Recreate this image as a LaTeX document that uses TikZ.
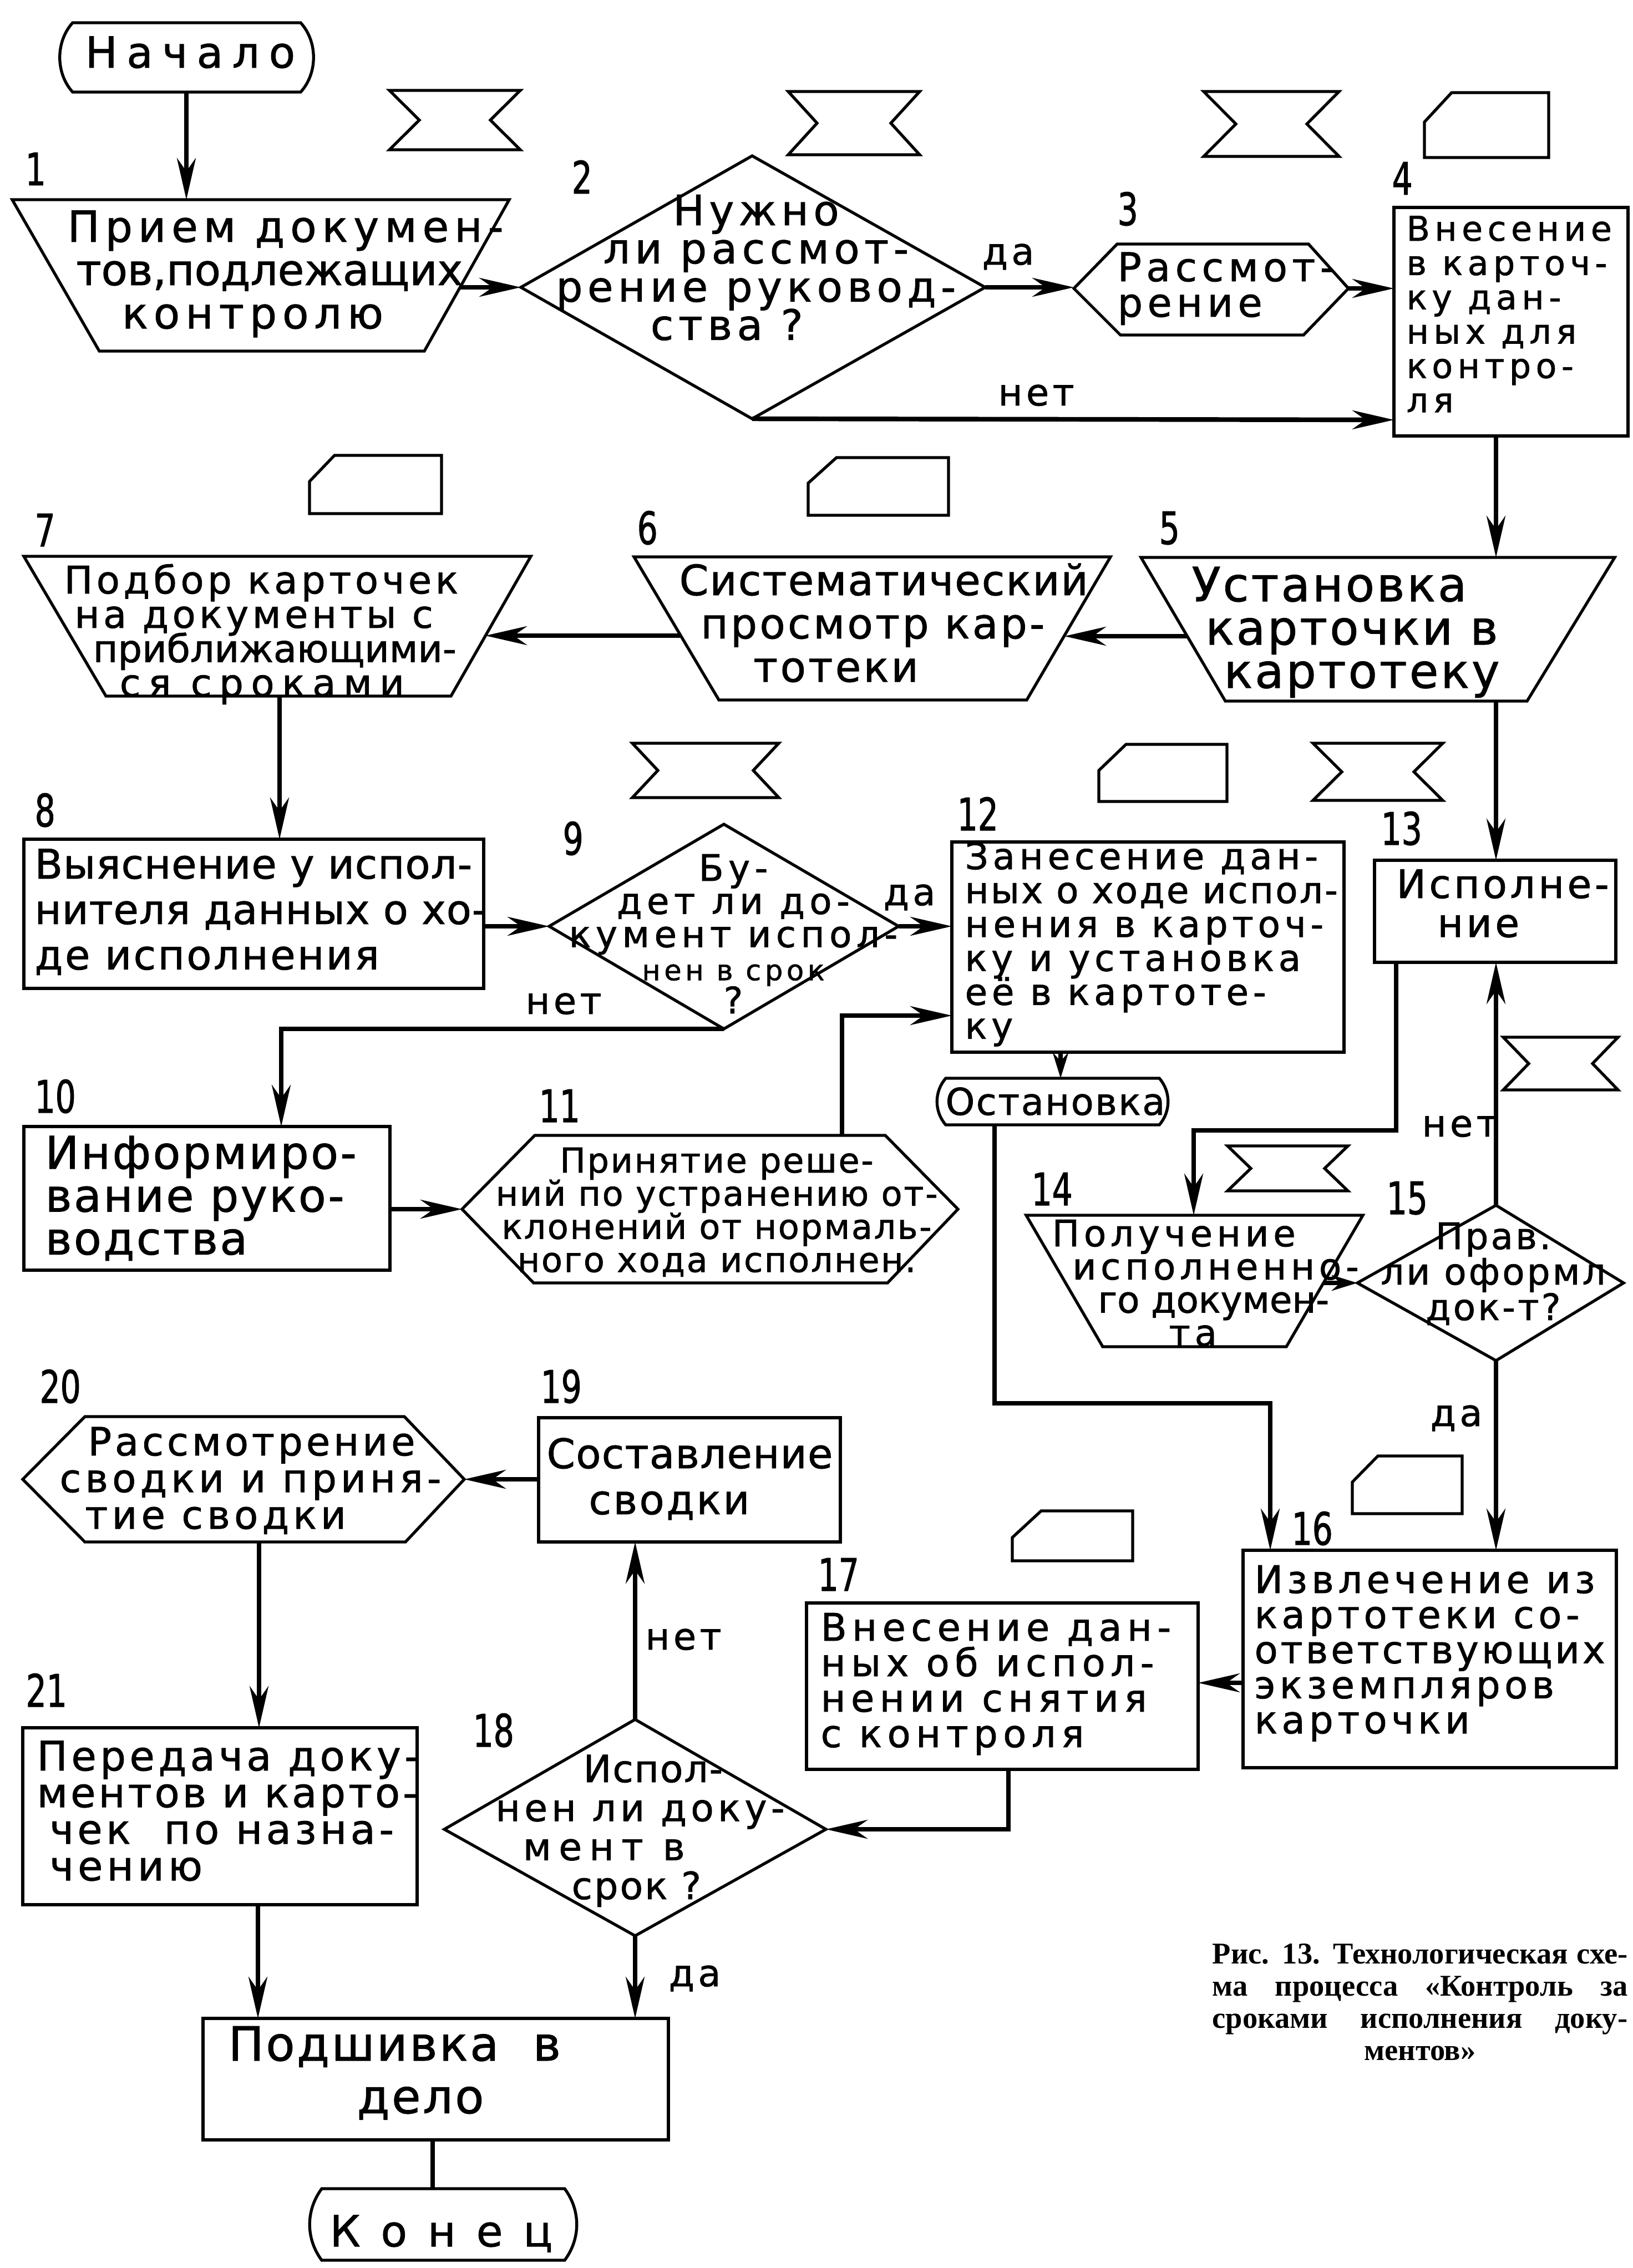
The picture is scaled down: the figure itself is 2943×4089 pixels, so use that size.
\documentclass[tikz,border=0pt]{standalone}
\usepackage{fontspec}
\usetikzlibrary{arrows.meta}
\newfontfamily\gost[FakeBold=1.2]{DejaVu Sans}
\newfontfamily\gostn[FakeStretch=0.72,FakeBold=1.2]{DejaVu Sans}
\newfontfamily\capf{Liberation Serif}
\lineskiplimit=-100pt
\newcommand\Ll[1]{\vtop{\halign{##\hfil\cr#1\crcr}}}
\newcommand\Lc[1]{\vtop{\halign{\hfil##\hfil\cr#1\crcr}}}
\newcommand\ls[2]{{\addfontfeatures{LetterSpace=#1}#2}}
\newcommand\hglass[5]{\draw[shp] (#1,#3) -- (#2,#3) -- ({#2-#5},{(#3+#4)/2}) -- (#2,#4) -- (#1,#4) -- ({#1+#5},{(#3+#4)/2}) -- cycle;}
\newcommand\kcard[6]{\draw[shp] (#1,#6) -- (#5,#3) -- (#2,#3) -- (#2,#4) -- (#1,#4) -- cycle;}
\tikzset{
  shp/.style={line width=1.5pt,line join=miter},
  conn/.style={line width=2.4pt},
  arr/.style={conn,-{Stealth[length=7.5mm,width=3.4mm,inset=2.4mm]}},
  sarr/.style={conn,-{Stealth[length=4.6mm,width=2.8mm,inset=1.5mm]}},
  tx/.style n args={3}{font={\gost\addfontfeatures{LetterSpace=#3}\fontsize{#1}{#2}\selectfont\lineskiplimit=-100pt},anchor=base west,inner sep=0pt},
  txc/.style n args={3}{font={\gost\addfontfeatures{LetterSpace=#3}\fontsize{#1}{#2}\selectfont\lineskiplimit=-100pt},anchor=base,inner sep=0pt},
  num/.style={font={\gostn\fontsize{23}{23}\selectfont},anchor=base west,inner sep=0pt},
  lab/.style={font={\gost\addfontfeatures{LetterSpace=10}\fontsize{19}{19}\selectfont},anchor=base west,inner sep=0pt},
}
\begin{document}
\begin{tikzpicture}[x=0.1mm,y=-0.1mm]
\useasboundingbox (0,0) rectangle (2943,4089);
\fill[white] (0,0) rectangle (2943,4089);

% ---------- symbols ----------
\hglass{702}{938}{163}{270}{54}
\hglass{1421}{1658}{165}{279}{52}
\hglass{2170}{2414}{165}{282}{58}
\kcard{2568}{2792}{167}{284}{2617}{220}
\kcard{558}{796}{821}{926}{603}{868}
\kcard{1457}{1710}{825}{929}{1508}{871}
\hglass{1140}{1404}{1340}{1438}{46}
\kcard{1981}{2212}{1342}{1445}{2030}{1389}
\hglass{2367}{2601}{1340}{1443}{52}
\hglass{2710}{2917}{1870}{1965}{46}
\hglass{2213}{2430}{2066}{2147}{42}
\kcard{2438}{2636}{2625}{2729}{2484}{2672}
\kcard{1825}{2042}{2724}{2814}{1877}{2772}

% ---------- shapes ----------
\draw[shp] (131,41) -- (542,41) .. controls (573,75) and (573,132) .. (542,166) -- (131,166) .. controls (100,132) and (100,75) .. (131,41) -- cycle;
\node[tx={22}{22}{21.5}] (start) at (153,122) {Начало};
\draw[shp] (22,360) -- (918,360) -- (765,633) -- (179,633) -- cycle;
\draw[shp] (1356,281) -- (1776,518) -- (1356,755) -- (939,518) -- cycle;
\draw[shp] (1936,520) -- (2014,440) -- (2359,440) -- (2431,520) -- (2350,604) -- (2020,604) -- cycle;
\draw[shp] (2513,374) rectangle (2935,786);
\draw[shp] (2057,1005) -- (2911,1005) -- (2753,1264) -- (2209,1264) -- cycle;
\draw[shp] (1143,1004) -- (2002,1004) -- (1851,1262) -- (1296,1262) -- cycle;
\draw[shp] (43,1003) -- (957,1003) -- (813,1255) -- (191,1255) -- cycle;
\draw[shp] (43,1513) rectangle (872,1782);
\draw[shp] (1305,1486) -- (1620,1670) -- (1305,1855) -- (990,1670) -- cycle;
\draw[shp] (43,2031) rectangle (703,2290);
\draw[shp] (833,2180) -- (964,2047) -- (1596,2047) -- (1727,2180) -- (1600,2313) -- (962,2313) -- cycle;
\draw[shp] (1716,1518) rectangle (2423,1897);
\draw[shp] (1705,1944) -- (2090,1944) .. controls (2111,1968) and (2111,2004) .. (2090,2028) -- (1705,2028) .. controls (1684,2004) and (1684,1968) .. (1705,1944) -- cycle;
\node[tx={19}{19}{4}] (stop) at (1704,2010) {Остановка};
\draw[shp] (2478,1551) rectangle (2913,1735);
\draw[shp] (1850,2191) -- (2457,2191) -- (2319,2428) -- (1988,2428) -- cycle;
\draw[shp] (2697,2173) -- (2927,2313) -- (2697,2453) -- (2447,2313) -- cycle;
\draw[shp] (2241,2795) rectangle (2914,3187);
\draw[shp] (1454,2890) rectangle (2160,3190);
\draw[shp] (1145,3100) -- (1489,3298) -- (1145,3490) -- (801,3298) -- cycle;
\draw[shp] (971,2556) rectangle (1515,2780);
\draw[shp] (41,2667) -- (153,2554) -- (729,2554) -- (837,2667) -- (731,2780) -- (153,2780) -- cycle;
\draw[shp] (41,3115) rectangle (752,3434);
\draw[shp] (366,3639) rectangle (1205,3858);
\draw[shp] (580,3946) -- (1018,3946) .. controls (1047,3985) and (1047,4036) .. (1018,4075) -- (580,4075) .. controls (551,4036) and (551,3985) .. (580,3946) -- cycle;
\node[tx={22}{22}{48}] (end) at (594,4050) {Конец};

% ---------- anchor coordinates ----------
\coordinate (s0b) at (336,166);   \coordinate (t1t) at (336,360);
\coordinate (t1r) at (830,518);   \coordinate (d2l) at (939,518);
\coordinate (d2r) at (1776,518);  \coordinate (h3l) at (1936,518);
\coordinate (h3r) at (2431,520);  \coordinate (b4l) at (2513,520);
\coordinate (d2b) at (1356,755);  \coordinate (b4n) at (2513,757);
\coordinate (b4b) at (2697,786);  \coordinate (t5t) at (2697,1005);
\coordinate (t5l) at (2141,1147); \coordinate (t6r) at (1919,1147);
\coordinate (t6l) at (1226,1146); \coordinate (t7r) at (875,1146);
\coordinate (t7b) at (504,1255);  \coordinate (b8t) at (504,1513);
\coordinate (b8r) at (872,1670);  \coordinate (d9l) at (990,1670);
\coordinate (d9r) at (1620,1670); \coordinate (b12l) at (1716,1670);
\coordinate (d9b) at (1305,1855); \coordinate (c9) at (507,1855); \coordinate (b10t) at (507,2031);
\coordinate (b10r) at (703,2180); \coordinate (h11l) at (833,2180);
\coordinate (h11t) at (1518,2047); \coordinate (c11) at (1518,1831); \coordinate (b12l2) at (1716,1831);
\coordinate (b12b) at (1912,1897); \coordinate (stt) at (1912,1944);
\coordinate (stb) at (1793,2028); \coordinate (cs1) at (1793,2530); \coordinate (cs2) at (2290,2530); \coordinate (b16t1) at (2290,2795);
\coordinate (t5b) at (2697,1264); \coordinate (b13t) at (2697,1551);
\coordinate (b13b1) at (2517,1735); \coordinate (c13a) at (2517,2038); \coordinate (c13b) at (2152,2038); \coordinate (t14t) at (2152,2191);
\coordinate (t14r) at (2386,2313); \coordinate (d15l) at (2447,2313);
\coordinate (d15t) at (2697,2173); \coordinate (b13b2) at (2697,1735);
\coordinate (d15b) at (2697,2453); \coordinate (b16t2) at (2697,2795);
\coordinate (b16l) at (2241,3034); \coordinate (b17r) at (2160,3034);
\coordinate (b17b) at (1818,3190); \coordinate (c17) at (1818,3298); \coordinate (d18r) at (1489,3298);
\coordinate (d18t) at (1145,3100); \coordinate (b19b) at (1145,2780);
\coordinate (b19l) at (971,2667); \coordinate (h20r) at (837,2667);
\coordinate (h20b) at (467,2780); \coordinate (b21t) at (467,3115);
\coordinate (b21b) at (465,3434); \coordinate (b22t1) at (465,3639);
\coordinate (d18b) at (1145,3490); \coordinate (b22t2) at (1145,3639);
\coordinate (b22b) at (780,3858); \coordinate (ent) at (780,3946);

% ---------- connectors ----------
\draw[arr] (s0b) -- (t1t);
\draw[arr] (t1r) -- (d2l);
\draw[arr] (d2r) -- (h3l);
\draw[arr] (h3r) -- (b4l);
\draw[arr] (d2b) -- (b4n);
\draw[arr] (b4b) -- (t5t);
\draw[arr] (t5l) -- (t6r);
\draw[arr] (t6l) -- (t7r);
\draw[arr] (t7b) -- (b8t);
\draw[arr] (b8r) -- (d9l);
\draw[arr] (d9r) -- (b12l);
\draw[arr] (d9b) -- (c9) -- (b10t);
\draw[arr] (b10r) -- (h11l);
\draw[arr] (h11t) -- (c11) -- (b12l2);
\draw[sarr] (b12b) -- (stt);
\draw[arr] (stb) -- (cs1) -- (cs2) -- (b16t1);
\draw[arr] (t5b) -- (b13t);
\draw[arr] (b13b1) -- (c13a) -- (c13b) -- (t14t);
\draw[sarr] (t14r) -- (d15l);
\draw[arr] (d15t) -- (b13b2);
\draw[arr] (d15b) -- (b16t2);
\draw[arr] (b16l) -- (b17r);
\draw[arr] (b17b) -- (c17) -- (d18r);
\draw[arr] (d18t) -- (b19b);
\draw[arr] (b19l) -- (h20r);
\draw[arr] (h20b) -- (b21t);
\draw[arr] (b21b) -- (b22t1);
\draw[arr] (d18b) -- (b22t2);
\draw[conn] (b22b) -- (ent);

% ---------- texts ----------
\node[tx={22}{22.2}{13}] (n1) at (121,436) {\Ll{Прием докумен-\cr\hspace*{4.5pt}\ls{0}{тов,подлежащих}\cr\hspace*{28pt}контролю}};
\node[txc={21.45}{19.6}{11.5}] (n2) at (1363,406) {\Lc{Нужно\cr ли рассмот-\cr рение руковод-\cr ства ?\hspace*{30pt}}};
\node[tx={20.35}{18.2}{12}] (n3) at (2014,507) {\Ll{Рассмот-\cr рение}};
\node[tx={17.5}{17.6}{14}] (n4) at (2535,434) {\Ll{Внесение\cr в карточ-\cr ку дан-\cr ных для\cr контро-\cr ля}};
\node[tx={24.2}{22.2}{5}] (n5) at (2148,1084) {\Ll{Установка\cr\hspace*{7pt}карточки в\cr\hspace*{16.5pt}картотеку}};
\node[tx={21.45}{22.2}{3}] (n6) at (1224,1073) {\Ll{Систематический\cr\hspace*{11pt}\ls{6}{просмотр кар-}\cr\hspace*{38pt}\ls{6}{тотеки}}};
\node[tx={19.5}{17.6}{9.8}] (n7) at (115,1070) {\Ll{Подбор карточек\cr\hspace*{5.4pt}на документы с\cr\hspace*{14.8pt}\ls{0}{приближающими-}\cr\hspace*{28.5pt}\ls{20}{ся сроками}}};
\node[tx={20.9}{23.3}{1.5}] (n8) at (62,1584) {\Ll{Выяснение у испол-\cr нителя данных о хо-\cr\ls{5}{де исполнения}}};
\node[txc={18.7}{17}{13}] (n9) at (1322,1588) {\Lc{Бу-\cr дет ли до-\cr кумент испол-\cr{\fontsize{14.5}{17}\selectfont нен в срок}\cr ?}};
\node[tx={23.1}{22}{4.4}] (n10) at (81,2107) {\Ll{Информиро-\cr вание руко-\cr водства}};
\node[txc={17.6}{17}{4.5}] (n11) at (1292,2114) {\Lc{Принятие реше-\cr ний по устранению от-\cr клонений от нормаль-\cr ного хода исполнен.}};
\node[tx={18.7}{17.4}{12}] (n12) at (1739,1567) {\Ll{Занесение дан-\cr\ls{5}{ных о ходе испол-}\cr нения в карточ-\cr ку и установка\cr её в картоте-\cr ку}};
\node[tx={20.2}{20}{8}] (n13) at (2517,1619) {\Ll{Исполне-\cr\hspace*{21pt}ние}};
\node[tx={18.7}{17}{12}] (n14) at (1896,2247) {\Ll{Получение\cr\hspace*{10.5pt}исполненно-\cr\hspace*{23.6pt}\ls{0}{го докумен-}\cr\hspace*{60pt}та}};
\node[txc={18.7}{18.2}{6.5}] (n15) at (2692,2252) {\Lc{Прав.\cr ли оформл\cr док-т?}};
\node[tx={19.5}{18}{11}] (n16) at (2261,2872) {\Ll{Извлечение из\cr картотеки со-\cr\ls{7.5}{ответствующих}\cr экземпляров\cr карточки}};
\node[tx={19.5}{18.2}{14}] (n17) at (1479,2958) {\Ll{Внесение дан-\cr ных об испол-\cr нении снятия\cr с контроля}};
\node[tx={19.25}{20}{11}] (n18) at (893,3213) {\Ll{\hspace*{45pt}\ls{3}{Испол-}\cr нен ли доку-\cr\hspace*{14pt}\ls{20}{мент в}\cr\hspace*{39pt}\ls{5}{срок ?}}};
\node[tx={20.9}{23.6}{2}] (n19) at (985,2647) {\Ll{Составление\cr\hspace*{21.6pt}\ls{5}{сводки}}};
\node[tx={20}{18.8}{10.4}] (n20) at (107,2624) {\Ll{\hspace*{14.5pt}\ls{8.7}{Рассмотрение}\cr сводки и приня-\cr\hspace*{13pt}тие сводки}};
\node[tx={20.9}{18.8}{9}] (n21) at (66,3192) {\Ll{Передача доку-\cr\ls{7}{ментов и карто-}\cr\hspace*{6.5pt}чек\ \ по назна-\cr\hspace*{6.5pt}\ls{10}{чению}}};
\node[tx={24.2}{27}{4.4}] (n22) at (411,3715) {\Ll{Подшивка\ \ в\cr\hspace*{66pt}дело}};

% ---------- numbers ----------
\node[num] (l1) at (45,334) {1};
\node[num] (l2) at (1030,349) {2};
\node[num] (l3) at (2014,406) {3};
\node[num] (l4) at (2509,351) {4};
\node[num] (l5) at (2089,981) {5};
\node[num] (l6) at (1148,981) {6};
\node[num] (l7) at (62,985) {7};
\node[num] (l8) at (62,1490) {8};
\node[num] (l9) at (1014,1541) {9};
\node[num] (l10) at (62,2006) {10};
\node[num] (l11) at (971,2023) {11};
\node[num] (l12) at (1725,1497) {12};
\node[num] (l13) at (2489,1523) {13};
\node[num] (l14) at (1859,2173) {14};
\node[num] (l15) at (2499,2189) {15};
\node[num] (l16) at (2328,2785) {16};
\node[num] (l17) at (1474,2868) {17};
\node[num] (l18) at (852,3149) {18};
\node[num] (l19) at (974,2529) {19};
\node[num] (l20) at (71,2529) {20};
\node[num] (l21) at (46,3077) {21};

% ---------- yes/no labels ----------
\node[lab] (y2) at (1770,477) {да};
\node[lab] (no2) at (1799,731) {нет};
\node[lab] (y9) at (1592,1632) {да};
\node[lab] (no9) at (947,1828) {нет};
\node[lab] (no15) at (2563,2049) {нет};
\node[lab] (y15) at (2578,2571) {да};
\node[lab] (no18) at (1163,2974) {нет};
\node[lab] (y18) at (1205,3581) {да};

% ---------- caption ----------
\node[font={\capf\bfseries\fontsize{15.5}{16.5}\selectfont\lineskiplimit=-100pt},anchor=base west,inner sep=0pt] (cap) at (2185,3540)
 {\Ll{\makebox[213pt][s]{Рис. 13. Технологическая схе-}\cr\makebox[213pt][s]{ма процесса «Контроль за}\cr\makebox[213pt][s]{сроками исполнения доку-}\cr\makebox[213pt][c]{ментов»}}};
\end{tikzpicture}
\end{document}
